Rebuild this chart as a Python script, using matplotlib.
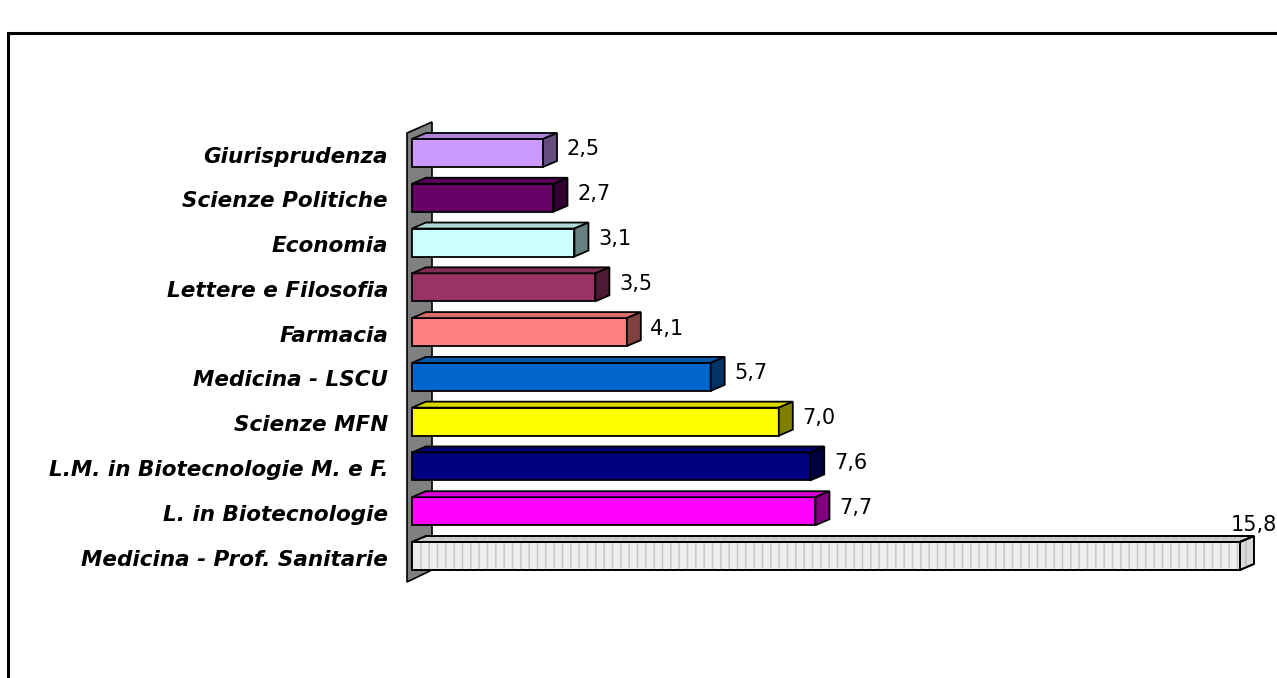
import matplotlib.pyplot as plt
import matplotlib.colors as mcolors
from matplotlib.patches import Polygon, Rectangle

# data, bottom to top as drawn
categories = ['Medicina - Prof. Sanitarie', 'L. in Biotecnologie', 'L.M. in Biotecnologie M. e F.',
              'Scienze MFN', 'Medicina - LSCU', 'Farmacia', 'Lettere e Filosofia',
              'Economia', 'Scienze Politiche', 'Giurisprudenza']
values = [15.8, 7.7, 7.6, 7.0, 5.7, 4.1, 3.5, 3.1, 2.7, 2.5]
value_labels = ['15,8', '7,7', '7,6', '7,0', '5,7', '4,1', '3,5', '3,1', '2,7', '2,5']
colors = ['#EEEEEE', '#FF00FF', '#000080', '#FFFF00', '#0066CC', '#FF8080', '#993366',
          '#CCFFFF', '#660066', '#CC99FF']

W, H = 1277, 678
PX_X = 52.4      # px per unit on x
PX_Y = 44.78     # px per category step
X0_PX = 412      # x=0 in pixels
Y0_PX = 556      # first category centre in pixels (from top)

BAR_H = 28 / PX_Y
DX = 14 / PX_X
DY = 6 / PX_Y


def shade(c, f):
    r, g, b = mcolors.to_rgb(c)
    return (r * f, g * f, b * f)


fig = plt.figure(figsize=(W / 100, H / 100), dpi=100)
fig.patch.set_facecolor('white')

# outer chart frame
fig.patches.append(Rectangle((8 / W, -0.01), 1.02, (H - 33) / H + 0.01, transform=fig.transFigure,
                             fill=False, edgecolor='black', linewidth=2.2))

top_px, bot_px = 100, 600
xmax = (W - X0_PX) / PX_X
ymin = -(bot_px - Y0_PX) / PX_Y
ymax = (Y0_PX - top_px) / PX_Y
ax = fig.add_axes([X0_PX / W, (H - bot_px) / H, (W - X0_PX) / W, (bot_px - top_px) / H])
ax.set_xlim(0, xmax)
ax.set_ylim(ymin, ymax)
ax.axis('off')

# side wall
wx0, wx1 = -5 / PX_X, 20 / PX_X
wall = Polygon([(wx0, (Y0_PX - 133) / PX_Y), (wx1, (Y0_PX - 122) / PX_Y),
                (wx1, (Y0_PX - 570) / PX_Y), (wx0, (Y0_PX - 582) / PX_Y)],
               closed=True, facecolor='#808080', edgecolor='black', lw=1.2, zorder=1, clip_on=False)
ax.add_patch(wall)

for i, (cat, v, lab, c) in enumerate(zip(categories, values, value_labels, colors)):
    y0, y1 = i - BAR_H / 2, i + BAR_H / 2
    front = Polygon([(0, y0), (v, y0), (v, y1), (0, y1)], closed=True,
                    facecolor=c, edgecolor='black', lw=1.3, zorder=3)
    top = Polygon([(0, y1), (DX, y1 + DY), (v + DX, y1 + DY), (v, y1)], closed=True,
                  facecolor=shade(c, 0.85), edgecolor='black', lw=1.3, zorder=3)
    side = Polygon([(v, y0), (v + DX, y0 + DY), (v + DX, y1 + DY), (v, y1)], closed=True,
                   facecolor=shade(c, 0.5) if i > 0 else '#D8D8D8', edgecolor='black', lw=1.3, zorder=3)
    for p in (front, top, side):
        p.set_clip_on(False)
        ax.add_patch(p)
    if i == 0:
        # textured fill on the big bar
        for p, hc in ((front, '#C4C4C4'), (top, '#D4D4D4'), (side, '#BBBBBB')):
            tex = Polygon(p.get_xy(), closed=True, facecolor='none', edgecolor=hc,
                          hatch='||', lw=0, zorder=3.5, clip_on=False)
            ax.add_patch(tex)
        for p in (front, top, side):
            ax.add_patch(Polygon(p.get_xy(), closed=True, fill=False, edgecolor='black',
                                 lw=1.3, zorder=4, clip_on=False))

    ax.text(-24 / PX_X, i - 0.08, cat, ha='right', va='center', fontsize=15.5,
            fontweight='bold', fontstyle='italic', family='DejaVu Sans', clip_on=False)

    lx = v + 0.45
    if lx + 0.9 > xmax:
        ax.text(xmax, i + 0.7, lab, ha='right', va='center', fontsize=15,
                family='DejaVu Sans', clip_on=False)
    else:
        ax.text(lx, i + 0.08, lab, ha='left', va='center', fontsize=15,
                family='DejaVu Sans', clip_on=False)

fig.savefig('out.png', dpi=100)
